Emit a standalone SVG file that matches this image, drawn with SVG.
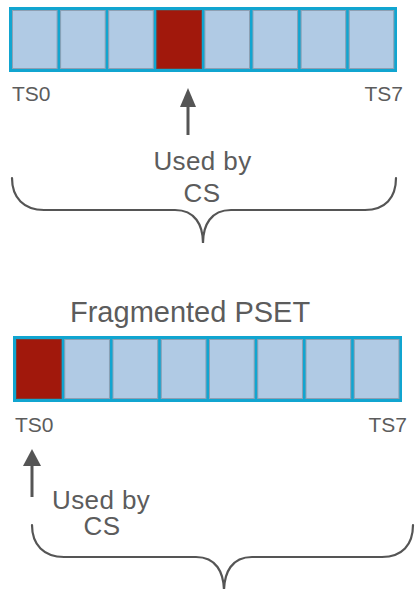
<svg xmlns="http://www.w3.org/2000/svg" width="416" height="589" viewBox="0 0 416 589">
<style>
.bar{fill:#11A5D0}
.cell{fill:#B0CAE4;stroke:#8D9FB3;stroke-width:1}
.used{fill:#A1180C;stroke:#7E3A33;stroke-width:1}
.t{font-family:"Liberation Sans",Arial,sans-serif;fill:#5c5c5c}
.ts{font-size:21px}
.lbl{font-size:26px;letter-spacing:0.4px}
.brace{fill:none;stroke:#555555;stroke-width:2.2;stroke-linecap:round}
.shaft{stroke:#555555;stroke-width:3}
.head{fill:#555555}
</style>
<rect width="416" height="589" fill="#ffffff"/>
<g id="bar-top">
<rect class="bar" x="9" y="7" width="388" height="65"/>
<rect class="cell" x="12.5" y="10.5" width="44.6" height="58"/>
<rect class="cell" x="60.6" y="10.5" width="44.6" height="58"/>
<rect class="cell" x="108.7" y="10.5" width="44.6" height="58"/>
<rect class="used" x="156.8" y="10.5" width="44.6" height="58"/>
<rect class="cell" x="204.9" y="10.5" width="44.6" height="58"/>
<rect class="cell" x="253" y="10.5" width="44.6" height="58"/>
<rect class="cell" x="301.1" y="10.5" width="44.6" height="58"/>
<rect class="cell" x="349.2" y="10.5" width="44.6" height="58"/>
</g>
<g id="labels-top">
<text class="t ts" x="12" y="101">TS0</text>
<text class="t ts" x="403" y="101" text-anchor="end">TS7</text>
<text class="t lbl" x="202.5" y="170" text-anchor="middle">Used by</text>
<text class="t lbl" x="202" y="202" text-anchor="middle">CS</text>
</g>
<g id="title-bottom">
<text class="t" x="70" y="322" font-size="29">Fragmented PSET</text>
</g>
<g id="bar-bottom">
<rect class="bar" x="13" y="336" width="389" height="66"/>
<rect class="used" x="16.5" y="339.5" width="44.7" height="59"/>
<rect class="cell" x="64.75" y="339.5" width="44.7" height="59"/>
<rect class="cell" x="113" y="339.5" width="44.7" height="59"/>
<rect class="cell" x="161.25" y="339.5" width="44.7" height="59"/>
<rect class="cell" x="209.5" y="339.5" width="44.7" height="59"/>
<rect class="cell" x="257.75" y="339.5" width="44.7" height="59"/>
<rect class="cell" x="306" y="339.5" width="44.7" height="59"/>
<rect class="cell" x="354.25" y="339.5" width="44.7" height="59"/>
</g>
<g id="labels-bottom">
<text class="t ts" x="15" y="432">TS0</text>
<text class="t ts" x="407" y="432" text-anchor="end">TS7</text>
<text class="t lbl" x="52" y="509">Used by</text>
<text class="t lbl" x="102" y="535" text-anchor="middle">CS</text>
</g>
<g id="connectors">
<line class="shaft" x1="188" y1="105" x2="188" y2="135"/>
<polygon class="head" points="188,88 196,107 180,107"/>
<line class="shaft" x1="32" y1="464" x2="32" y2="497"/>
<polygon class="head" points="32,449 41,466 23,466"/>
<path class="brace" d="M12,178 C12,198 24,210 44,210 L175,210 C195,210 203,225 203,243 C203,225 211,210 231,210 L365,210 C385,210 396,198 396,178"/>
<path class="brace" d="M32,525 C32,545 44,557 64,557 L196,557 C216,557 224,572 224,592 C224,572 232,557 252,557 L382,557 C402,557 413,545 413,525"/>
</g>
</svg>
